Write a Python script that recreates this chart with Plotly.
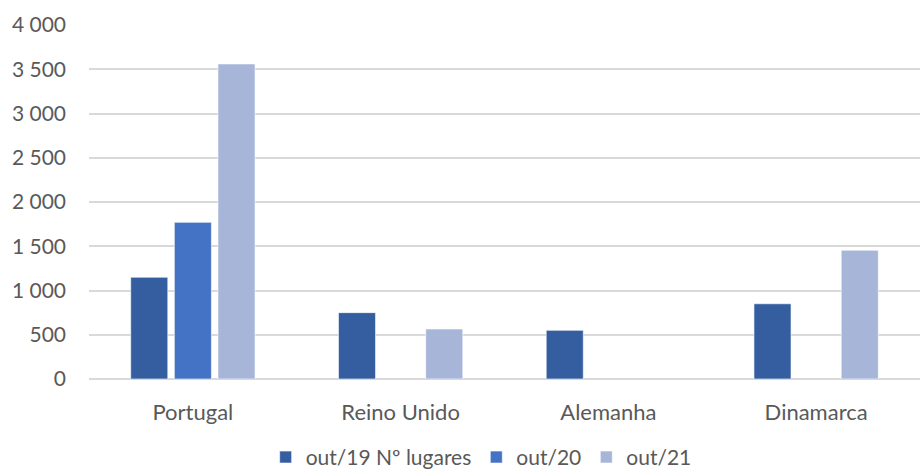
import plotly.graph_objects as go

categories = ["Portugal", "Reino Unido", "Alemanha", "Dinamarca"]
series_names = ["out/19 Nº lugares", "out/20", "out/21"]
out19 = [1150, 750, 550, 850]
out20 = [1770, None, None, None]
out21 = [3560, 565, None, 1455]
y_ticks = [0, 500, 1000, 1500, 2000, 2500, 3000, 3500, 4000]
y_tick_labels = ["0", "500", "1 000", "1 500", "2 000", "2 500", "3 000", "3 500", "4 000"]

colors = ["#355EA1", "#4472C4", "#A7B5D9"]
font_family = "Lato, Open Sans, sans-serif"

fig = go.Figure()
for name, vals, col in zip(series_names, [out19, out20, out21], colors):
    fig.add_trace(go.Bar(
        x=categories, y=vals, name=name,
        marker=dict(color=col, line=dict(color="rgba(255,255,255,0.6)", width=1)),
    ))

fig.update_layout(
    width=920, height=474,
    margin=dict(l=89, r=0, t=25, b=95),
    paper_bgcolor="white", plot_bgcolor="white",
    barmode="group", bargap=0.37, bargroupgap=0.15,
    font=dict(family=font_family, size=22, color="#595959"),
    showlegend=True,
    legend=dict(orientation="h", xref="container", yref="container",
                x=0.523, xanchor="center", y=0.035, yanchor="middle",
                font=dict(size=21, color="#595959"),
                bgcolor="rgba(0,0,0,0)", traceorder="normal"),
    yaxis=dict(range=[0, 4000], tickvals=y_ticks, ticktext=y_tick_labels,
               showgrid=True, gridcolor="#D9D9D9", gridwidth=1.5,
               zeroline=True, zerolinecolor="#D9D9D9", zerolinewidth=1.5,
               showline=False, ticks="", ticklabelstandoff=22, automargin=False,
               tickfont=dict(size=21, color="#595959")),
    xaxis=dict(showline=False, ticks="", ticklabelstandoff=18, automargin=False,
               tickfont=dict(size=22, color="#595959")),
)

fig.write_html("out.html",
               config={"displayModeBar": False},
               post_script="document.body.style.margin='0';document.body.style.overflow='hidden';")
